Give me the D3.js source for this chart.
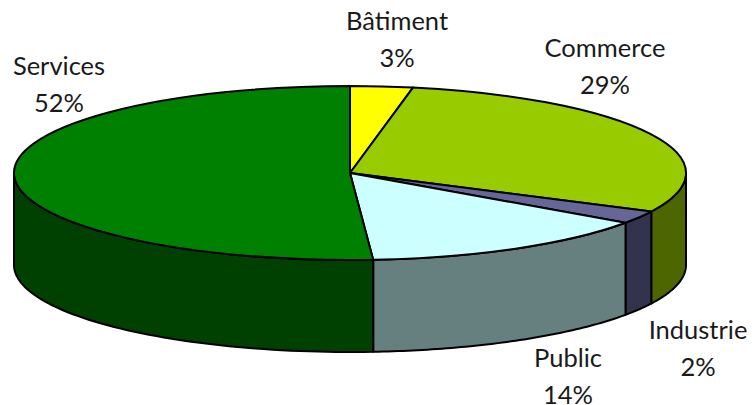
<!DOCTYPE html>
<html>
<head>
<meta charset="utf-8">
<script src="https://cdn.jsdelivr.net/npm/d3@7/dist/d3.min.js"></script>
<style>
  html, body { margin: 0; background: #fff; }
  text { font-family: Lato, sans-serif; font-size: 25.5px; fill: #1a1a1a; }
</style>
</head>
<body>
<svg id="chart" width="755" height="405"></svg>
<script>
const categories = ["Bâtiment", "Commerce", "Industrie", "Public", "Services"];
// slice sizes as measured on the drawn pie
const shares = [3.0, 29.3, 2.4, 14.2, 51.1];
// percentages as printed on the labels
const printed = [3, 29, 2, 14, 52];

const topColors = ["#ffff00", "#99cc00", "#666699", "#ccffff", "#008000"];
const sideColors = ["#666600", "#4d6600", "#33334d", "#668080", "#004000"];

const cx = 350, cy = 173, rx = 336, ry = 87, depth = 92;
const labelPos = [[397, 30], [605, 57], [698, 339], [568, 367], [59, 75]];

const svg = d3.select("#chart");
const arcs = d3.pie().sort(null).value(d => d)(shares);

const px = a => cx + rx * Math.sin(a);
const py = a => cy - ry * Math.cos(a);
const line = d3.line();

// outer wall, only the part facing the viewer
const front = [Math.PI / 2, Math.PI * 1.5];
const walls = svg.append("g");
arcs.forEach((d, i) => {
  const a0 = Math.max(d.startAngle, front[0]);
  const a1 = Math.min(d.endAngle, front[1]);
  if (a1 <= a0) return;
  const steps = d3.range(0, 61).map(k => a0 + (a1 - a0) * k / 60);
  const upper = steps.map(a => [px(a), py(a)]);
  const lower = steps.slice().reverse().map(a => [px(a), py(a) + depth]);
  walls.append("path")
    .attr("d", line(upper.concat(lower)) + "Z")
    .attr("fill", sideColors[i])
    .attr("stroke", "#000")
    .attr("stroke-width", 2)
    .attr("stroke-linejoin", "round");
});

// top face: a round pie squashed into the ellipse
const baseR = 1000;
const arc = d3.arc().innerRadius(0).outerRadius(baseR);
svg.append("g")
  .attr("transform", `translate(${cx},${cy}) scale(${rx / baseR},${ry / baseR})`)
  .selectAll("path")
  .data(arcs)
  .join("path")
  .attr("d", arc)
  .attr("fill", (d, i) => topColors[i])
  .attr("stroke", "#000")
  .attr("stroke-width", 2)
  .attr("stroke-linejoin", "round")
  .attr("vector-effect", "non-scaling-stroke");

const labels = svg.append("g").attr("text-anchor", "middle");
categories.forEach((c, i) => {
  const [x, y] = labelPos[i];
  labels.append("text").attr("x", x).attr("y", y).text(c);
  labels.append("text").attr("x", x).attr("y", y + 36.5).text(printed[i] + "%");
});
</script>
</body>
</html>
